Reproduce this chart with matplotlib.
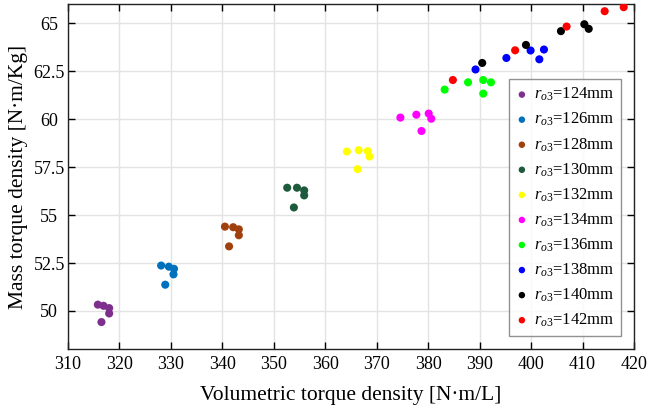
import matplotlib
matplotlib.use("Agg")
import matplotlib.pyplot as plt
from matplotlib.ticker import FixedLocator, FuncFormatter

plt.rcParams['font.family'] = ['Liberation Serif', 'DejaVu Serif']
plt.rcParams['mathtext.fontset'] = 'custom'
plt.rcParams['mathtext.rm'] = 'Liberation Serif'
plt.rcParams['mathtext.it'] = 'Liberation Serif:italic'

radii = [124, 126, 128, 130, 132, 134, 136, 138, 140, 142]
colors = ['#7E2F8E', '#0072BD', '#A0400C', '#1E5A3C', '#FFFF00',
          '#FF00FF', '#00FF00', '#0000FF', '#000000', '#FF0000']

vol_124 = [315.8, 316.9, 318.0, 318.0, 316.5]
mass_124 = [50.33, 50.27, 50.15, 49.87, 49.42]
vol_126 = [328.1, 329.6, 330.6, 330.5, 328.9]
mass_126 = [52.37, 52.31, 52.20, 51.91, 51.37]
vol_128 = [340.5, 342.1, 343.2, 343.2, 341.3]
mass_128 = [54.40, 54.37, 54.26, 53.95, 53.37]
vol_130 = [352.6, 354.5, 355.9, 355.9, 353.9]
mass_130 = [56.43, 56.43, 56.29, 56.03, 55.40]
vol_132 = [364.2, 366.5, 368.25, 368.6, 366.3]
mass_132 = [58.32, 58.39, 58.34, 58.06, 57.40]
vol_134 = [374.6, 377.7, 380.1, 380.6, 378.7]
mass_134 = [60.09, 60.24, 60.30, 60.03, 59.39]
vol_136 = [383.2, 387.75, 390.7, 392.2, 390.7]
mass_136 = [61.55, 61.93, 62.05, 61.93, 61.34]
vol_138 = [389.2, 395.2, 399.9, 401.6, 402.5]
mass_138 = [62.60, 63.20, 63.59, 63.13, 63.64]
vol_140 = [390.5, 399.0, 405.8, 410.35, 411.2]
mass_140 = [62.94, 63.88, 64.60, 64.96, 64.72]
vol_142 = [384.8, 396.9, 406.9, 414.3, 418.0]
mass_142 = [62.05, 63.60, 64.84, 65.64, 65.85]

vols = [vol_124, vol_126, vol_128, vol_130, vol_132,
        vol_134, vol_136, vol_138, vol_140, vol_142]
masses = [mass_124, mass_126, mass_128, mass_130, mass_132,
          mass_134, mass_136, mass_138, mass_140, mass_142]

x_ticks = list(range(310, 421, 10))
y_ticks = [50, 52.5, 55, 57.5, 60, 62.5, 65]

fig = plt.figure(figsize=(6.51, 4.12), dpi=100)
ax = fig.add_axes([68/651, 1-349.3/412, (634-68)/651, (349.3-4.3)/412])

for r, c, xv, yv in zip(radii, colors, vols, masses):
    ax.scatter(xv, yv, s=34, color=c, edgecolors='none', zorder=3,
               label=r'$r_{o3}$=%dmm' % r)

ax.set_xlim(310, 420)
ax.set_ylim(48, 66)
ax.xaxis.set_major_locator(FixedLocator(x_ticks))
ax.yaxis.set_major_locator(FixedLocator(y_ticks))
ax.yaxis.set_major_formatter(FuncFormatter(lambda v, p: ('%g' % v)))
ax.grid(True, color='#e3e3e3', linewidth=1.0, zorder=0)
ax.set_axisbelow(True)
ax.tick_params(direction='in', top=True, right=True, length=5, width=1,
               labelsize=13)
ax.tick_params(axis='x', pad=5)
ax.tick_params(axis='y', pad=13.5)
for lab in ax.get_yticklabels():
    lab.set_horizontalalignment('center')
for sp in ax.spines.values():
    sp.set_linewidth(1.0)
    sp.set_color('#222222')

ax.set_xlabel('Volumetric torque density [N·m/L]', fontsize=15.5, labelpad=9)
ax.set_ylabel('Mass torque density [N·m/Kg]', fontsize=15.5, labelpad=4)

leg = ax.legend(loc='upper right', bbox_to_anchor=(0.9765, 0.7826),
                borderaxespad=0, frameon=True, fancybox=False,
                edgecolor='#777777', fontsize=12, handletextpad=0.3,
                handlelength=0.8, labelspacing=0.46, borderpad=0.4,
                markerscale=0.8)
leg.get_frame().set_linewidth(1.0)

fig.savefig('out.png', dpi=100)
